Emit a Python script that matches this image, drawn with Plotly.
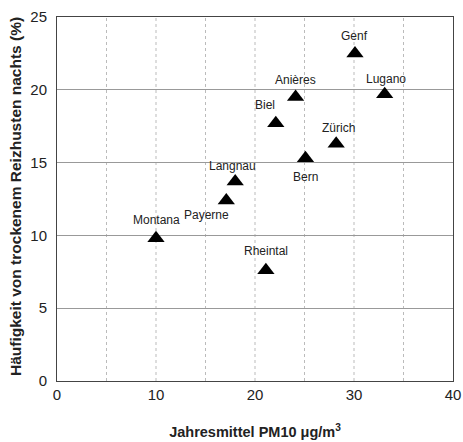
import plotly.graph_objects as go

cities = ["Montana", "Payerne", "Langnau", "Rheintal", "Biel", "Anières", "Bern", "Zürich", "Genf", "Lugano"]
pm10 = [10.0, 17.1, 18.0, 21.1, 22.1, 24.1, 25.1, 28.2, 30.1, 33.1]
husten = [9.8, 12.4, 13.7, 7.6, 17.7, 19.5, 15.3, 16.3, 22.5, 19.7]
# label offsets (px) relative to each point
label_dx = [0, -20, -3, 0, -11, 0, 0, 2, 0, 1]
label_dy = [18, -15, 16, 19, 18, 17, -19, 16, 17, 15]

y_title = "Häufigkeit von trockenem Reizhusten nachts (%)"
x_title = "Jahresmittel PM10 μg/m<sup>3</sup>"

fig = go.Figure()
fig.add_trace(go.Scatter(
    x=pm10, y=husten, mode="markers",
    marker=dict(symbol="triangle-up", size=15, color="black"),
    showlegend=False, hoverinfo="skip"))

for c, x, y, dx, dy in zip(cities, pm10, husten, label_dx, label_dy):
    fig.add_annotation(x=x, y=y, text=c, showarrow=False, xshift=dx, yshift=dy,
                       font=dict(family="Liberation Sans, Arial", size=12, color="#222"))

fig.add_annotation(xref="paper", yref="paper", x=0, y=0.5, xshift=-42, yshift=2,
                   text="<b>" + y_title + "</b>", textangle=-90, showarrow=False,
                   xanchor="center", yanchor="middle",
                   font=dict(family="Liberation Sans, Arial", size=15.5, color="#222"))

fig.update_layout(
    width=463, height=442,
    margin=dict(l=57, r=10, t=17, b=61),
    paper_bgcolor="white", plot_bgcolor="white",
    font=dict(family="Liberation Sans, Arial", color="#222"),
    xaxis=dict(range=[0, 40], tickvals=[0, 10, 20, 30, 40], showgrid=False, automargin=False,
               tickfont=dict(size=15), ticks="", showline=True, linecolor="#444", mirror=True,
               zeroline=False,
               title=dict(text="<b>" + x_title + "</b>", font=dict(size=14.5), standoff=24)),
    yaxis=dict(range=[0, 25], tickvals=[0, 5, 10, 15, 20, 25], showgrid=True, gridcolor="#999",
               gridwidth=1, tickfont=dict(size=15), ticks="", showline=True, linecolor="#444",
               mirror=True, zeroline=False, automargin=False, ticklabelstandoff=6),
)

for xv in [5, 10, 15, 20, 25, 30, 35]:
    fig.add_shape(type="line", xref="x", yref="paper", x0=xv, x1=xv, y0=0, y1=1,
                  line=dict(color="#bbb", width=1, dash="dot"), layer="below")

fig.write_html(
    "out.html",
    config={"displayModeBar": False},
    post_script="document.documentElement.style.margin='0';document.body.style.margin='0';"
                "document.body.style.overflow='hidden';",
)
